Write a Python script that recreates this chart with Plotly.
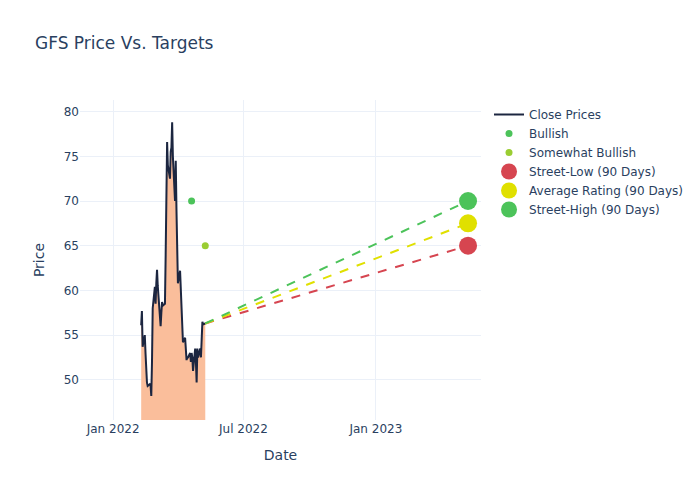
import pandas as pd
import plotly.graph_objects as go

# close prices, business days 2022-02-09 .. 2022-05-09
dates = pd.bdate_range("2022-02-09", "2022-05-09")
close = [
    56.1, 57.7, 53.7, 55.0, 53.0, 50.0, 49.7, 49.3, 49.5, 49.4, 48.2, 52.0, 58.0, 60.4,
    58.5, 60.8, 62.3, 60.5, 57.0, 56.0, 57.5, 58.7, 58.3, 58.5, 64.0, 70.0, 76.6, 74.0,
    72.5, 75.5, 76.0, 78.8, 75.0, 70.0, 74.5, 69.0, 65.0,
    60.8, 62.2, 60.0, 57.0, 55.0, 54.2, 54.7, 53.5, 52.2, 52.5, 52.5, 53.0, 52.0, 53.0,
    52.5, 51.0, 53.5, 52.0, 49.7, 53.5, 52.5,
    53.5, 52.5, 54.5, 56.5, 56.2, 56.3,
]

# analyst ratings
bullish_dates = ["2022-04-20"]
bullish_targets = [70]
somewhat_dates = ["2022-05-09"]
somewhat_targets = [65]

# 90 day targets
target_date = "2023-05-09"
target_names = ["Street-Low (90 Days)", "Average Rating (90 Days)", "Street-High (90 Days)"]
target_values = [65, 67.5, 70]
target_colors = ["#d64550", "#e0e000", "#4cc35a"]

last_date = dates[-1]
last_close = close[-1]

fig = go.Figure()

# shaded area under the price
fig.add_trace(go.Scatter(
    x=dates, y=close, mode="none", fill="tozeroy",
    fillcolor="rgba(250,190,155,1)", showlegend=False, hoverinfo="skip",
))
fig.add_trace(go.Scatter(
    x=dates, y=close, mode="lines", name="Close Prices",
    line=dict(color="#1c2640", width=2),
))

fig.add_trace(go.Scatter(
    x=bullish_dates, y=bullish_targets, mode="markers", name="Bullish",
    marker=dict(color="#4cc35a", size=7),
))
fig.add_trace(go.Scatter(
    x=somewhat_dates, y=somewhat_targets, mode="markers", name="Somewhat Bullish",
    marker=dict(color="#9acd32", size=7),
))

# dashed projection lines
for name, val, col in zip(target_names, target_values, target_colors):
    fig.add_trace(go.Scatter(
        x=[last_date, target_date], y=[last_close, val], mode="lines",
        line=dict(color=col, dash="dash", width=2), showlegend=False, hoverinfo="skip",
    ))

for name, val, col in zip(target_names, target_values, target_colors):
    fig.add_trace(go.Scatter(
        x=[target_date], y=[val], mode="markers", name=name,
        marker=dict(color=col, size=18),
    ))

fig.update_layout(
    template="plotly_white",
    font=dict(family="DejaVu Sans"),
    title=dict(text="GFS Price Vs. Targets", x=0.05, y=0.926),
    xaxis_title="Date",
    yaxis_title="Price",
    width=700, height=500,
    xaxis=dict(range=["2021-11-16", "2023-05-27"], dtick="M6", tickformat="%b %Y"),
    yaxis=dict(range=[45.5, 81.3]),
)

# page body margin would push the 700x500 figure off by 8px
fig.write_html("out.html", config={"displayModeBar": False},
               post_script="document.body.style.margin='0';")
